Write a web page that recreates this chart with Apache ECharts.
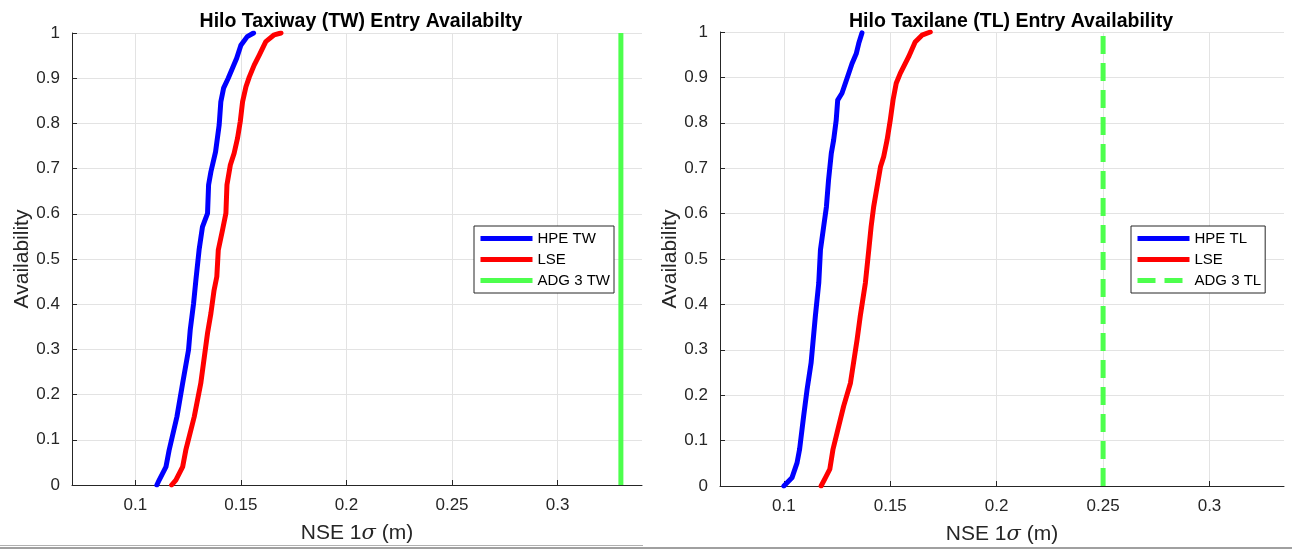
<!DOCTYPE html>
<html><head><meta charset="utf-8">
<script src="https://cdn.jsdelivr.net/npm/echarts@6/dist/echarts.min.js"></script>
<style>html,body{margin:0;padding:0;background:#fff}#c{width:1292px;height:550px}</style>
</head><body><div id="c"></div>
<script>
// ---- data ----
const xTicks = [0.1, 0.15, 0.2, 0.25, 0.3];
const yTicks = [0, 0.1, 0.2, 0.3, 0.4, 0.5, 0.6, 0.7, 0.8, 0.9, 1];

const hpeTW_y = [0, 0.011, 0.04, 0.077, 0.151, 0.225, 0.299, 0.343, 0.402, 0.454, 0.52, 0.571, 0.601, 0.664, 0.693, 0.737, 0.796, 0.848, 0.878, 0.9, 0.922, 0.944, 0.973, 0.992, 1.0];
const hpeTW_x = [0.1102, 0.1113, 0.1145, 0.116, 0.1197, 0.1224, 0.1252, 0.126, 0.1276, 0.1287, 0.1302, 0.1318, 0.1342, 0.1347, 0.1358, 0.138, 0.1397, 0.1405, 0.1418, 0.144, 0.146, 0.148, 0.150, 0.153, 0.156];

const lseTW_y = [0, 0.011, 0.04, 0.077, 0.151, 0.225, 0.336, 0.38, 0.431, 0.461, 0.52, 0.564, 0.601, 0.664, 0.708, 0.734, 0.767, 0.804, 0.848, 0.881, 0.903, 0.929, 0.951, 0.981, 0.996, 1.0];
const lseTW_x = [0.1172, 0.1192, 0.1224, 0.1239, 0.1279, 0.131, 0.1342, 0.1358, 0.1373, 0.1386, 0.1393, 0.1413, 0.1429, 0.1434, 0.145, 0.1468, 0.1484, 0.1497, 0.1508, 0.1524, 0.154, 0.1563, 0.1587, 0.1618, 0.1658, 0.169];

const hpeTL_y = [0, 0.018, 0.051, 0.081, 0.154, 0.212, 0.271, 0.374, 0.447, 0.52, 0.571, 0.615, 0.674, 0.733, 0.762, 0.806, 0.85, 0.865, 0.887, 0.909, 0.93, 0.952, 0.975, 0.998];
const hpeTL_x = [0.1, 0.1038, 0.1062, 0.1074, 0.1093, 0.1109, 0.1128, 0.1148, 0.1164, 0.1172, 0.1187, 0.12, 0.121, 0.1223, 0.1234, 0.1246, 0.1253, 0.1273, 0.1289, 0.1305, 0.132, 0.134, 0.1352, 0.1367];

const lseTL_y = [0, 0.018, 0.037, 0.081, 0.117, 0.176, 0.227, 0.322, 0.374, 0.447, 0.52, 0.571, 0.615, 0.659, 0.703, 0.725, 0.762, 0.806, 0.85, 0.887, 0.909, 0.945, 0.978, 0.993, 1.0];
const lseTL_x = [0.1175, 0.1195, 0.1216, 0.1231, 0.125, 0.1281, 0.1313, 0.1344, 0.1359, 0.1383, 0.1399, 0.141, 0.1422, 0.1438, 0.1454, 0.1469, 0.1485, 0.15, 0.1513, 0.1528, 0.1547, 0.1586, 0.1617, 0.1649, 0.1688];

const adgTW = 0.33;
const adgTL = 0.25;
const adgY = [0, 1];

// ---- chart ----
const FONT = 'Liberation Sans, Arial, Helvetica, sans-serif';
const AX = '#262626';
const zip = (xs, ys) => xs.map((x, i) => [x, ys[i]]);

function xAxisCfg(gi, max) {
  return {
    type: 'value', gridIndex: gi, min: 0.07, max: max,
    name: '{a|NSE 1}{s|σ}{a| (m)}', nameLocation: 'middle', nameGap: 38,
    nameTextStyle: { rich: {
      a: { fontSize: 21, fontFamily: FONT, color: AX },
      s: { fontSize: 21, fontFamily: 'DejaVu Serif, serif', fontStyle: 'italic', color: AX }
    } },
    axisLine: { show: true, onZero: false, lineStyle: { color: AX, width: 1 } },
    axisTick: { show: true, inside: true, length: 5, customValues: xTicks, lineStyle: { color: AX } },
    axisLabel: { customValues: xTicks, margin: 12, fontSize: 17, color: AX, fontFamily: FONT,
      formatter: v => String(+(+v).toFixed(2)) },
    splitLine: { show: true, lineStyle: { color: '#e3e3e3', width: 1 } }
  };
}
function yAxisCfg(gi) {
  return {
    type: 'value', gridIndex: gi, min: 0, max: 1,
    name: 'Availability', nameLocation: 'middle', nameGap: 38,
    nameTextStyle: { fontSize: 21, fontFamily: FONT, color: AX },
    axisLine: { show: true, onZero: false, lineStyle: { color: AX, width: 1 } },
    axisTick: { show: true, inside: true, length: 5, customValues: yTicks, lineStyle: { color: AX } },
    axisLabel: { customValues: yTicks, margin: 12, fontSize: 17, color: AX, fontFamily: FONT,
      formatter: v => String(+(+v).toFixed(1)) },
    splitLine: { show: true, lineStyle: { color: '#e3e3e3', width: 1 } }
  };
}
function lineSeries(name, data, color, gi, dashed, straight) {
  return {
    type: 'line', name: name, xAxisIndex: gi, yAxisIndex: gi, data: data,
    symbol: 'none', showSymbol: false, silent: true, animation: false,
    lineStyle: { color: color, width: 5, type: dashed ? [18, 9] : 'solid', cap: straight ? 'butt' : 'round', join: 'round' },
    itemStyle: { color: color }
  };
}
function legendCfg(names, left) {
  return {
    data: names, orient: 'vertical', left: left, top: 226,
    itemWidth: 52, itemHeight: 14, itemGap: 6, padding: [5, 4, 5, 4],
    borderColor: AX, borderWidth: 1, backgroundColor: '#fff', selectedMode: false,
    itemStyle: { opacity: 0 },
    lineStyle: { width: 5, cap: 'butt' },
    textStyle: { fontSize: 15, color: '#000', fontFamily: FONT }
  };
}

const chart = echarts.init(document.getElementById('c'), null, { renderer: 'canvas' });
chart.setOption({
  animation: false,
  backgroundColor: '#fff',
  title: [
    { text: 'Hilo Taxiway (TW) Entry Availabilty', left: 356, top: 7, textAlign: 'center',
      textStyle: { fontSize: 19.5, fontWeight: 'bold', color: '#000', fontFamily: FONT } },
    { text: 'Hilo Taxilane (TL) Entry Availability', left: 1006, top: 7, textAlign: 'center',
      textStyle: { fontSize: 19.5, fontWeight: 'bold', color: '#000', fontFamily: FONT } }
  ],
  grid: [
    { left: 72, top: 33, width: 570, height: 452 },
    { left: 720, top: 32, width: 564, height: 455 }
  ],
  xAxis: [xAxisCfg(0, 0.34), xAxisCfg(1, 0.335)],
  yAxis: [yAxisCfg(0), yAxisCfg(1)],
  legend: [
    legendCfg(['HPE TW', 'LSE', 'ADG 3 TW'], 474),
    legendCfg(['HPE TL', 'LSE', 'ADG 3 TL'], 1131)
  ],
  series: [
    lineSeries('HPE TW', zip(hpeTW_x, hpeTW_y), '#0000ff', 0),
    lineSeries('LSE', zip(lseTW_x, lseTW_y), '#ff0000', 0),
    lineSeries('ADG 3 TW', adgY.map(y => [adgTW, y]), '#4dff4d', 0, false, true),
    lineSeries('HPE TL', zip(hpeTL_x, hpeTL_y), '#0000ff', 1),
    lineSeries('LSE', zip(lseTL_x, lseTL_y), '#ff0000', 1),
    lineSeries('ADG 3 TL', adgY.map(y => [adgTL, y]), '#4dff4d', 1, true, true)
  ],
  graphic: [
    { type: 'rect', shape: { x: 0, y: 545, width: 643, height: 1 }, style: { fill: '#b0b0b0' }, silent: true },
    { type: 'rect', shape: { x: 0, y: 547, width: 643, height: 2 }, style: { fill: '#a0a0a0' }, silent: true },
    { type: 'rect', shape: { x: 643, y: 547, width: 649, height: 2 }, style: { fill: '#a0a0a0' }, silent: true }
  ]
});
</script></body></html>
